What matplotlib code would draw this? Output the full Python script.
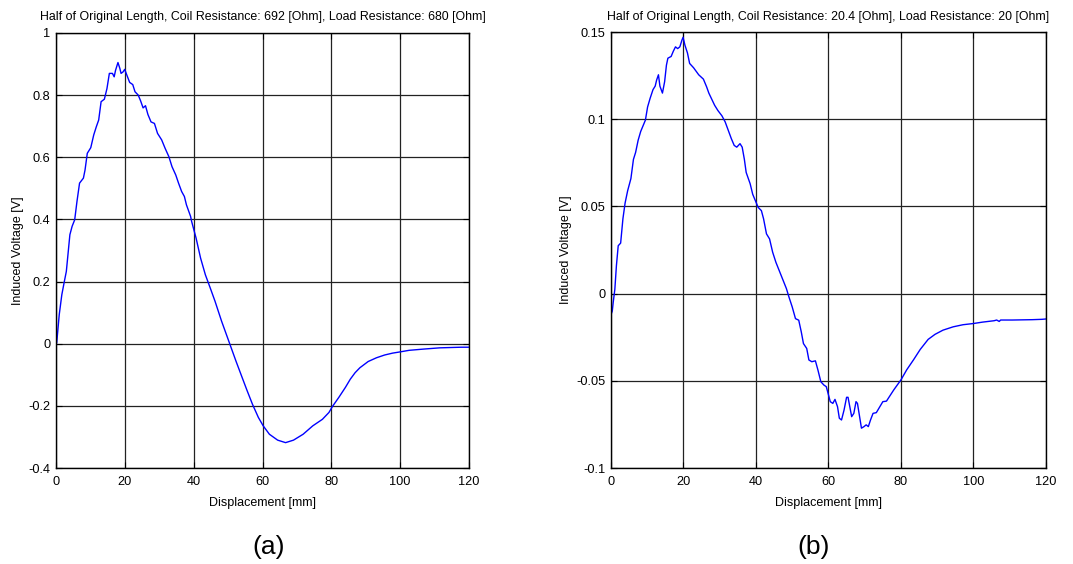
import matplotlib
matplotlib.use("Agg")
import matplotlib.pyplot as plt

# ---------------------------
# data
# ---------------------------
titles = [
    "Half of Original Length, Coil Resistance: 692 [Ohm], Load Resistance: 680 [Ohm]",
    "Half of Original Length, Coil Resistance: 20.4 [Ohm], Load Resistance: 20 [Ohm]",
]
panel_labels = ["(a)", "(b)"]

disp_a = [0.0, 0.2, 0.94, 1.69, 2.34, 3.0, 3.56, 4.03, 4.68, 5.43, 6.09, 6.84, 7.96,
          8.43, 9.09, 10.1, 10.96, 11.7, 12.4, 13.1, 14.05, 14.8, 15.5, 16.4, 16.9,
          17.3, 18.0, 18.55, 18.9, 19.5, 19.95, 20.6, 21.4, 22.3, 22.95, 23.9, 24.6,
          25.3, 26.0, 26.7, 27.6, 28.6, 29.5, 30.7, 31.7, 32.8, 33.7, 34.8, 35.6,
          36.5, 37.3, 37.9, 39.1, 39.4, 40.7, 42.0, 43.4, 44.8, 46.2, 48.1, 49.5,
          50.9, 52.3, 54.1, 55.5, 57.1, 58.8, 60.2, 62.0, 64.4, 66.7, 69.0, 71.8,
          74.6, 77.4, 79.3, 80.3, 82.2, 84.1, 85.5, 86.9, 88.3, 90.7, 93.1, 95.5,
          97.8, 100.0, 102.6, 106.8, 111.5, 117.7, 120.0]
volt_a = [0.0, 0.003, 0.094, 0.158, 0.196, 0.233, 0.297, 0.351, 0.378, 0.399, 0.458,
          0.517, 0.533, 0.559, 0.613, 0.631, 0.672, 0.698, 0.720, 0.779, 0.787, 0.821,
          0.870, 0.870, 0.859, 0.880, 0.905, 0.886, 0.870, 0.875, 0.883, 0.864, 0.841,
          0.834, 0.811, 0.800, 0.781, 0.759, 0.766, 0.738, 0.714, 0.709, 0.677, 0.656,
          0.629, 0.602, 0.570, 0.543, 0.517, 0.490, 0.474, 0.447, 0.410, 0.394, 0.340,
          0.276, 0.222, 0.180, 0.137, 0.073, 0.030, -0.013, -0.056, -0.109, -0.150,
          -0.195, -0.237, -0.264, -0.291, -0.310, -0.318, -0.310, -0.291, -0.264,
          -0.243, -0.221, -0.202, -0.172, -0.140, -0.114, -0.093, -0.077, -0.057,
          -0.045, -0.036, -0.030, -0.026, -0.021, -0.017, -0.013, -0.011, -0.011]

disp_b = [0.0, 0.36, 0.62, 1.07, 1.5, 2.0, 2.67, 3.3, 3.9, 4.6, 5.5, 6.2, 6.8, 7.5,
          8.2, 8.9, 9.5, 10.1, 10.8, 11.6, 12.2, 12.6, 13.1, 13.5, 14.2, 14.8, 15.3,
          15.7, 16.6, 17.2, 17.8, 18.4, 19.0, 19.6, 19.9, 20.4, 21.1, 21.7, 22.8,
          24.2, 25.5, 26.4, 27.0, 27.7, 28.6, 29.5, 30.6, 31.5, 32.4, 33.2, 34.0,
          34.7, 35.6, 36.2, 36.8, 37.3, 38.4, 39.1, 40.0, 40.6, 41.5, 42.1, 42.9,
          43.75, 44.6, 45.5, 46.4, 47.3, 48.4, 49.1, 50.0, 50.9, 51.8, 52.5, 53.1,
          54.0, 54.6, 55.4, 56.4, 57.1, 57.9, 58.75, 59.4, 60.0, 60.5, 61.2, 61.8,
          62.5, 63.0, 63.6, 64.3, 65.0, 65.4, 65.9, 66.4, 67.0, 67.6, 68.0, 68.6,
          69.1, 69.8, 70.4, 71.0, 71.6, 72.3, 73.2, 74.1, 75.0, 76.0, 78.0, 80.0,
          81.6, 83.5, 85.3, 87.5, 89.4, 91.6, 94.4, 97.1, 100.0, 102.5, 105.7,
          106.4, 107.1, 107.5, 110.7, 116.2, 118.9, 120.0]
volt_b = [-0.012, -0.010, -0.005, 0.0025, 0.016, 0.0275, 0.029, 0.043, 0.052, 0.059,
          0.066, 0.077, 0.081, 0.088, 0.093, 0.0965, 0.0995, 0.107, 0.112, 0.117,
          0.119, 0.1225, 0.1255, 0.119, 0.115, 0.1215, 0.131, 0.135, 0.136, 0.139,
          0.1415, 0.1405, 0.1415, 0.1455, 0.147, 0.1425, 0.138, 0.132, 0.1295,
          0.1255, 0.123, 0.1185, 0.115, 0.112, 0.108, 0.105, 0.102, 0.0985, 0.0935,
          0.0889, 0.085, 0.084, 0.086, 0.084, 0.077, 0.0695, 0.063, 0.057, 0.0524,
          0.0495, 0.0476, 0.0429, 0.0343, 0.0314, 0.0238, 0.018, 0.0133, 0.0086,
          0.0029, -0.0019, -0.0076, -0.0143, -0.0152, -0.0219, -0.0286, -0.0314,
          -0.038, -0.039, -0.0385, -0.0438, -0.0505, -0.0524, -0.0533, -0.058,
          -0.0619, -0.0629, -0.0606, -0.0648, -0.0714, -0.0724, -0.0667, -0.0594,
          -0.0594, -0.0648, -0.0705, -0.0686, -0.0619, -0.0629, -0.0705, -0.0771,
          -0.0762, -0.0752, -0.0762, -0.0724, -0.0686, -0.0682, -0.0651, -0.0619,
          -0.0616, -0.0552, -0.0494, -0.0436, -0.0378, -0.032, -0.0262, -0.0233,
          -0.0209, -0.019, -0.0178, -0.0171, -0.0163, -0.0155, -0.0151, -0.0159,
          -0.0151, -0.0151, -0.0149, -0.0147, -0.0145]

xticks = [0, 20, 40, 60, 80, 100, 120]
yticks_a = [-0.4, -0.2, 0, 0.2, 0.4, 0.6, 0.8, 1]
ytick_labels_a = ["-0.4", "-0.2", "0", "0.2", "0.4", "0.6", "0.8", "1"]
yticks_b = [-0.1, -0.05, 0, 0.05, 0.1, 0.15]
ytick_labels_b = ["-0.1", "-0.05", "0", "0.05", "0.1", "0.15"]

plt.rcParams["font.family"] = ["Liberation Sans", "DejaVu Sans"]

fig = plt.figure(figsize=(10.73, 5.64), dpi=100)
ax_a = fig.add_axes([0.0522, 0.170, 0.3849, 0.7715])
ax_b = fig.add_axes([0.5694, 0.170, 0.4054, 0.7732])

panels = [
    (ax_a, disp_a, volt_a, (-0.4, 1), yticks_a, ytick_labels_a),
    (ax_b, disp_b, volt_b, (-0.1, 0.15), yticks_b, ytick_labels_b),
]

for i, (ax, x, y, ylim, yt, ytl) in enumerate(panels):
    ax.plot(x, y, color="#0000ff", lw=1.0)
    ax.set_xlim(0, 120)
    ax.set_ylim(*ylim)
    ax.set_xticks(xticks)
    ax.set_xticklabels([str(t) for t in xticks])
    ax.set_yticks(yt)
    ax.set_yticklabels(ytl)
    ax.grid(True, color="#222222", lw=0.9, ls="-")
    ax.tick_params(direction="in", top=True, right=True, length=4, width=0.8,
                   labelsize=9.2)
    ax.tick_params(axis="x", pad=6)
    ax.tick_params(axis="y", pad=4)
    for s in ax.spines.values():
        s.set_linewidth(1.0)
        s.set_color("black")
    ax.set_title(titles[i], fontsize=8.9, pad=9)
    ax.set_xlabel("Displacement [mm]", fontsize=9, labelpad=6)
    ax.set_ylabel("Induced Voltage [V]", fontsize=9, labelpad=3)

fig.text(0.25, 0.03, panel_labels[0], ha="center", va="center", fontsize=19)
fig.text(0.758, 0.03, panel_labels[1], ha="center", va="center", fontsize=19)

fig.savefig("out.png", dpi=100)
